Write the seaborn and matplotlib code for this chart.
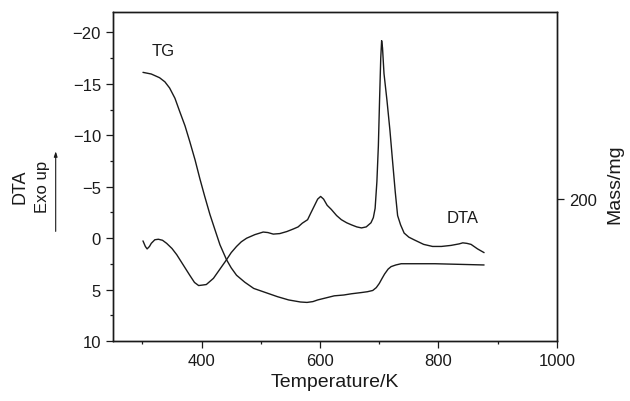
import numpy as np
import pandas as pd
import matplotlib
matplotlib.use("Agg")
import matplotlib.pyplot as plt
from matplotlib.ticker import MultipleLocator
import seaborn as sns

# DTA trace (left axis, inverted)
dta_temp = [301, 305, 308, 312, 315, 321, 327, 334, 341, 350, 358, 369, 380, 388, 395, 402,
            408, 414, 420, 431, 442, 450, 459, 467, 476, 490, 504, 512, 521, 532, 544, 555,
            563, 570, 579, 584, 590, 596, 601, 606, 612, 619, 628, 636, 645, 653, 662, 670,
            678, 686, 690, 693, 696, 698.5, 700.5, 702.5, 704, 705.5, 708, 713, 718, 722,
            727, 731, 736, 742, 750, 759, 775, 790, 805, 821, 835, 841, 848, 855, 866, 877]
dta_signal = [0.26, 0.8, 1.04, 0.8, 0.5, 0.15, 0.1, 0.2, 0.5, 1.0, 1.6, 2.6, 3.6, 4.3, 4.6, 4.55,
              4.5, 4.2, 3.9, 3.0, 2.1, 1.4, 0.8, 0.35, 0.0, -0.35, -0.6, -0.55, -0.4, -0.45, -0.65, -0.9,
              -1.1, -1.46, -1.8, -2.4, -3.1, -3.8, -4.06, -3.8, -3.2, -2.8, -2.2, -1.8, -1.5, -1.3, -1.1, -1.0,
              -1.1, -1.5, -2.0, -2.9, -5.5, -9.0, -13.4, -17.5, -19.2, -18.5, -16.0, -13.4, -10.5, -7.8,
              -4.5, -2.2, -1.3, -0.5, -0.1, 0.16, 0.6, 0.8, 0.8, 0.7, 0.55, 0.45, 0.5, 0.6, 1.04, 1.4]

# TG trace (right axis, mass)
tg_temp = [301, 315, 329, 338, 346, 355, 363, 372, 380, 389, 397, 405, 414, 422, 431, 442,
           450, 459, 473, 488, 508, 528, 547, 567, 578, 588, 596, 610, 624, 640, 653, 670,
           680, 689, 695, 700, 705, 709, 715, 720, 728, 737, 794, 877]
tg_mass = [230.7, 230.3, 229.4, 228.4, 226.9, 224.4, 221.2, 217.7, 213.9, 209.4, 204.9, 200.7,
           196.2, 192.7, 188.8, 185.2, 183.2, 181.4, 179.7, 178.2, 177.2, 176.2, 175.4, 174.9,
           174.8, 175.0, 175.4, 175.9, 176.4, 176.6, 176.9, 177.2, 177.4, 177.7, 178.4, 179.4,
           180.7, 181.7, 182.9, 183.5, 183.9, 184.2, 184.2, 183.9]

dta_df = pd.DataFrame({"T": dta_temp, "DTA": dta_signal})
tg_df = pd.DataFrame({"T": tg_temp, "Mass": tg_mass})

sns.set_style("ticks")
plt.rcParams["font.family"] = ["Liberation Sans", "DejaVu Sans"]
plt.rcParams["axes.linewidth"] = 1.0
ink = "#1a1a1a"
plt.rcParams["text.color"] = ink
plt.rcParams["axes.labelcolor"] = ink
plt.rcParams["xtick.color"] = ink
plt.rcParams["ytick.color"] = ink

fig = plt.figure(figsize=(6.3, 4.02), dpi=100)
ax = fig.add_axes([0.179, 0.149, 0.705, 0.819])
ax2 = ax.twinx()

sns.lineplot(data=dta_df, x="T", y="DTA", ax=ax, color=ink, linewidth=1.0,
             sort=False, estimator=None)
sns.lineplot(data=tg_df, x="T", y="Mass", ax=ax2, color=ink, linewidth=1.0,
             sort=False, estimator=None)

ax.set_xlim(250, 1000)
ax.set_ylim(10, -22)
ax2.set_ylim(165.4, 245.4)

ax.set_xticks([400, 600, 800, 1000])
ax.xaxis.set_minor_locator(MultipleLocator(100))
ax.set_yticks([-20, -15, -10, -5, 0, 5, 10])
ax.yaxis.set_minor_locator(MultipleLocator(2.5))
ax2.set_yticks([200])

for a in (ax, ax2):
    a.tick_params(which="major", length=5, width=0.9, labelsize=12)
    a.tick_params(which="minor", length=2.5, width=0.9)
    for s in a.spines.values():
        s.set_visible(True)
        s.set_color(ink)

ax.set_yticklabels(["\u221220", "\u221215", "\u221210", "\u22125", "0", "5", "10"])
ax.set_xlabel("Temperature/K", fontsize=14, labelpad=4)
ax.set_ylabel("")
ax2.set_ylabel("")

ax.text(335, -18.2, "TG", fontsize=12, ha="center", va="center")
ax.text(841, -2.0, "DTA", fontsize=12, ha="center", va="center")

fig.text(0.032, 0.535, "DTA", rotation=90, fontsize=13, ha="center", va="center")
fig.text(0.067, 0.535, "Exo up", rotation=90, fontsize=12, ha="center", va="center")
fig.add_artist(matplotlib.patches.FancyArrowPatch(
    (0.0884, 0.415), (0.0884, 0.628), transform=fig.transFigure,
    arrowstyle="-|>,head_length=3,head_width=1.0", linewidth=0.8, color=ink))
fig.text(0.976, 0.542, "Mass/mg", rotation=90, fontsize=14, ha="center", va="center")

fig.savefig("out.png", dpi=100)
